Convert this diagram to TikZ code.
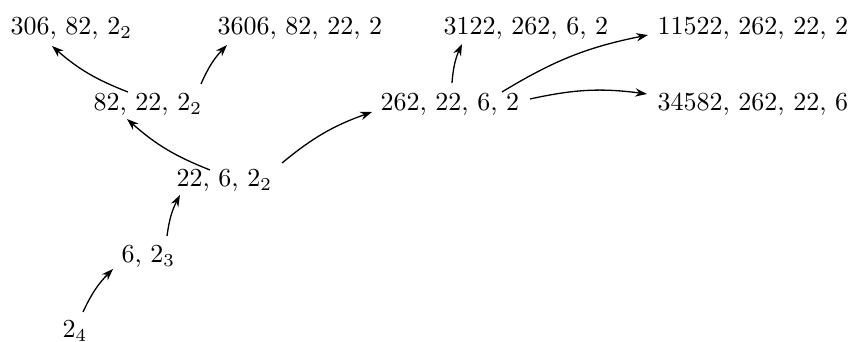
\documentclass[tikz,border=0pt]{standalone}
\usetikzlibrary{calc,arrows.meta}
\begin{document}
\begin{tikzpicture}[x=0.3846pt,y=-0.3846pt,
  lbl/.style={inner sep=0pt,anchor=base west},
  arr/.style={-{Stealth[length=4.5pt,width=3.2pt]},line width=0.5pt,bend left=10}]
\useasboundingbox (0,0) rectangle (853,342);
\node[lbl] (a) at (10,35) {306, 82, $2_2$};
\node[lbl] (b) at (217,35) {3606, 82, 22, 2};
\node[lbl] (c) at (93,111) {82, 22, $2_2$};
\node[lbl] (d) at (176,187) {22, 6, $2_2$};
\node[lbl] (e) at (121,263) {6, $2_3$};
\node[lbl] (f) at (62,338) {$2_4$};
\node[lbl] (g) at (380,111) {262, 22, 6, 2};
\node[lbl] (h) at (443,35) {3122, 262, 6, 2};
\node[lbl] (i) at (657,35) {11522, 262, 22, 2};
\node[lbl] (j) at (657,111) {34582, 262, 22, 6};
% edges (offsets relative to base west of each node)
\draw[arr] ($(f.base west)+(21,-26)$) to ($(e.base west)+(-8,6)$);
\draw[arr] ($(e.base west)+(46,-27)$) to ($(d.base west)+(4,8)$);
\draw[arr] ($(d.base west)+(34,-17)$) to ($(c.base west)+(34,8)$);
\draw[arr] ($(d.base west)+(106,-24)$) to ($(g.base west)+(-8,1)$);
\draw[arr] ($(c.base west)+(35,-19)$) to ($(a.base west)+(42,11)$);
\draw[arr] ($(c.base west)+(108,-27)$) to ($(b.base west)+(10,10)$);
\draw[arr] ($(g.base west)+(72,-28)$) to ($(h.base west)+(19,9)$);
\draw[arr] ($(g.base west)+(122,-19)$) to ($(i.base west)+(-9,0)$);
\draw[arr] ($(g.base west)+(150,-12)$) to ($(j.base west)+(-10,-17)$);
\end{tikzpicture}
\end{document}
